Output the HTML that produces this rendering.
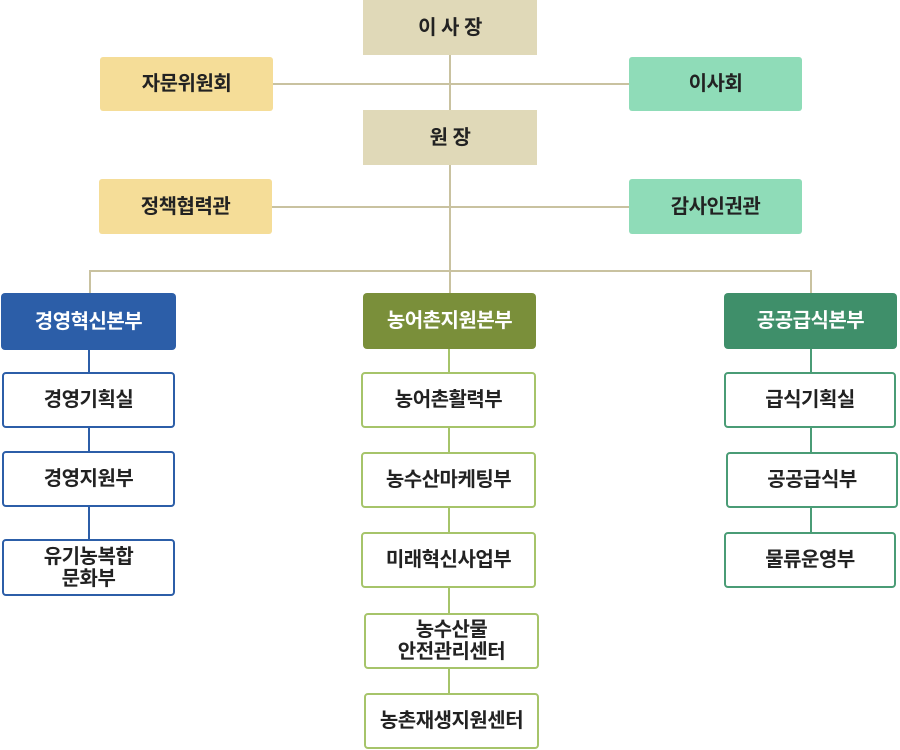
<!DOCTYPE html>
<html><head><meta charset="utf-8"><style>
body{margin:0;width:900px;height:750px;background:#fff;position:relative;overflow:hidden;font-family:"Liberation Sans","Noto Sans CJK KR",sans-serif;}
.b{position:absolute;box-sizing:border-box;display:flex;align-items:center;justify-content:center;text-align:center;font-weight:bold;font-size:20px;color:#222;line-height:1.1;letter-spacing:-0.5px;}
.l{position:absolute;}
.tan{background:#e0d9b8;}
.yel{background:#f5dd98;border-radius:3px;}
.mint{background:#8fdcb8;border-radius:3px;}
.h{border-radius:4px;color:#fff;}
.c{background:#fff;border-radius:4px;border:2px solid;}
.bl{border-color:#2c5ea8}.gr{border-color:#a6c46a}.tl{border-color:#4a9c76}
</style></head><body>
<div class="l" style="left:449px;top:55px;width:2px;height:238px;background:#c9c2a0"></div>
<div class="l" style="left:273px;top:83px;width:356px;height:2px;background:#c9c2a0"></div>
<div class="l" style="left:272px;top:206px;width:357px;height:2px;background:#c9c2a0"></div>
<div class="l" style="left:89px;top:270px;width:723px;height:2px;background:#c9c2a0"></div>
<div class="l" style="left:89px;top:270px;width:2px;height:24px;background:#c9c2a0"></div>
<div class="l" style="left:810px;top:270px;width:2px;height:24px;background:#c9c2a0"></div>
<div class="l" style="left:88px;top:350px;width:2px;height:190px;background:#2c5ea8"></div>
<div class="l" style="left:448px;top:349px;width:2px;height:345px;background:#a6c46a"></div>
<div class="l" style="left:810px;top:349px;width:2px;height:184px;background:#4a9c76"></div>
<div class="b tan" style="left:363px;top:0;width:174px;height:55px">이 사 장</div>
<div class="b yel" style="left:100px;top:57px;width:173px;height:54px">자문위원회</div>
<div class="b mint" style="left:629px;top:57px;width:173px;height:54px">이사회</div>
<div class="b tan" style="left:363px;top:110px;width:174px;height:55px">원 장</div>
<div class="b yel" style="left:99px;top:179px;width:173px;height:55px">정책협력관</div>
<div class="b mint" style="left:629px;top:179px;width:173px;height:55px">감사인권관</div>
<div class="b h" style="left:1px;top:293px;width:175px;height:57px;background:#2c5ea8">경영혁신본부</div>
<div class="b h" style="left:363px;top:293px;width:173px;height:56px;background:#7a8f3a">농어촌지원본부</div>
<div class="b h" style="left:724px;top:293px;width:173px;height:56px;background:#3f8f6a">공공급식본부</div>
<div class="b c bl" style="left:2px;top:372px;width:173px;height:56px">경영기획실</div>
<div class="b c bl" style="left:2px;top:451px;width:173px;height:56px">경영지원부</div>
<div class="b c bl" style="left:2px;top:539px;width:173px;height:57px">유기농복합<br>문화부</div>
<div class="b c gr" style="left:361px;top:372px;width:175px;height:56px">농어촌활력부</div>
<div class="b c gr" style="left:361px;top:452px;width:175px;height:56px">농수산마케팅부</div>
<div class="b c gr" style="left:361px;top:532px;width:175px;height:56px">미래혁신사업부</div>
<div class="b c gr" style="left:364px;top:613px;width:175px;height:56px">농수산물<br>안전관리센터</div>
<div class="b c gr" style="left:364px;top:693px;width:175px;height:56px">농촌재생지원센터</div>
<div class="b c tl" style="left:724px;top:372px;width:172px;height:56px">급식기획실</div>
<div class="b c tl" style="left:726px;top:452px;width:172px;height:56px">공공급식부</div>
<div class="b c tl" style="left:724px;top:532px;width:172px;height:56px">물류운영부</div>
</body></html>
